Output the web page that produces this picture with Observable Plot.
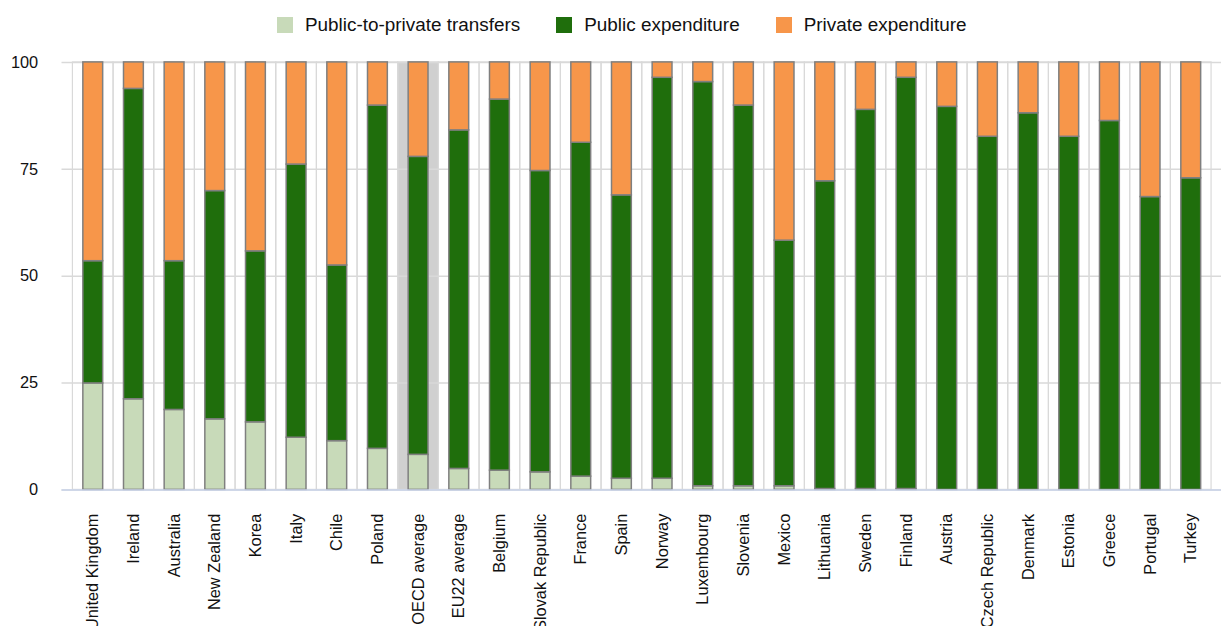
<!DOCTYPE html>
<html><head><meta charset="utf-8">
<script src="https://cdn.jsdelivr.net/npm/d3@7"></script>
<script src="https://cdn.jsdelivr.net/npm/@observablehq/plot@0.6"></script>
<style>
html,body{margin:0;padding:0;background:#fff;overflow:hidden;font-family:"Liberation Sans",Arial,sans-serif;}
#legend{height:50px;display:flex;align-items:center;padding-left:277px;font-size:18.9px;color:#111;box-sizing:border-box;}
.item{display:flex;align-items:center;margin-right:36px;white-space:nowrap;}
.sw{width:16px;height:16px;margin-right:12px;flex:none;}
#chart svg{display:block;overflow:visible;}
</style></head><body>
<div id="legend"></div><div id="chart"></div>
<script>
const categories = ["United Kingdom","Ireland","Australia","New Zealand","Korea","Italy","Chile","Poland","OECD average","EU22 average","Belgium","Slovak Republic","France","Spain","Norway","Luxembourg","Slovenia","Mexico","Lithuania","Sweden","Finland","Austria","Czech Republic","Denmark","Estonia","Greece","Portugal","Turkey"];
const transfers  = [24.9,21.2,18.7,16.5,15.8,12.2,11.4,9.6,8.2,4.9,4.5,4.1,3.1,2.6,2.6,0.85,0.85,0.85,0.2,0.2,0.2,0,0,0,0,0,0,0];
const publicExp  = [28.6,72.6,34.8,53.4,40.0,63.9,41.1,80.3,69.7,79.2,86.8,70.5,78.1,66.3,93.8,94.55,89.05,57.45,72.0,88.7,96.2,89.6,82.6,88.1,82.6,86.3,68.5,72.9];
const privateExp = [46.5,6.2,46.5,30.1,44.2,23.9,47.5,10.1,22.1,15.9,8.7,25.4,18.8,31.1,3.6,4.6,10.1,41.7,27.8,11.1,3.6,10.4,17.4,11.9,17.4,13.7,31.5,27.1];
const seriesNames = ["Public-to-private transfers","Public expenditure","Private expenditure"];
const seriesColors = ["#c8dab9","#1f6e0c","#f7964a"];
const highlighted = ["OECD average"];
const yTicks = [0,25,50,75,100];

const seriesValues = [transfers, publicExp, privateExp];
const rows = [];
seriesNames.forEach((s, si) => categories.forEach((c, i) => rows.push({country: c, series: s, value: seriesValues[si][i]})));

const legend = document.getElementById("legend");
seriesNames.forEach((s, i) => {
  const it = document.createElement("div"); it.className = "item";
  const sw = document.createElement("div"); sw.className = "sw"; sw.style.background = seriesColors[i];
  const tx = document.createElement("span"); tx.textContent = s;
  it.appendChild(sw); it.appendChild(tx); legend.appendChild(it);
});

const chart = Plot.plot({
  width: 1231, height: 581,
  marginTop: 12, marginBottom: 138, marginLeft: 62, marginRight: 0,
  style: {fontFamily: "'Liberation Sans', Arial, sans-serif", fontSize: "16.5px", color: "#111", background: "#fff", overflow: "visible"},
  x: {type: "band", domain: categories, padding: 0},
  y: {domain: [0, 100]},
  color: {domain: seriesNames, range: seriesColors},
  marks: [
    Plot.barY(highlighted, {x: d => d, y1: 0, y2: 100, fill: "#d0d0d0"}),
    Plot.barY(categories, {x: d => d, y1: 0, y2: 100, fill: "none", stroke: "#d9d9d9", strokeWidth: 1.2}),
    Plot.ruleY(yTicks, {stroke: "#d9d9d9", strokeWidth: 1.5}),
    Plot.barY(rows, {x: "country", y: "value", fill: "series", stroke: "#7f7f7f", strokeWidth: 1.5, insetLeft: 10.5, insetRight: 10.5}),
    Plot.ruleY([0], {stroke: "#c9d3ea", strokeWidth: 1.5}),
    Plot.axisY({ticks: yTicks, tickSize: 0, tickPadding: 24, label: null, fontSize: 16.5}),
    Plot.axisX({tickSize: 0, tickRotate: -90, tickPadding: 24, label: null, fontSize: 16.5})
  ]
});
document.getElementById("chart").appendChild(chart);
</script>
</body></html>
